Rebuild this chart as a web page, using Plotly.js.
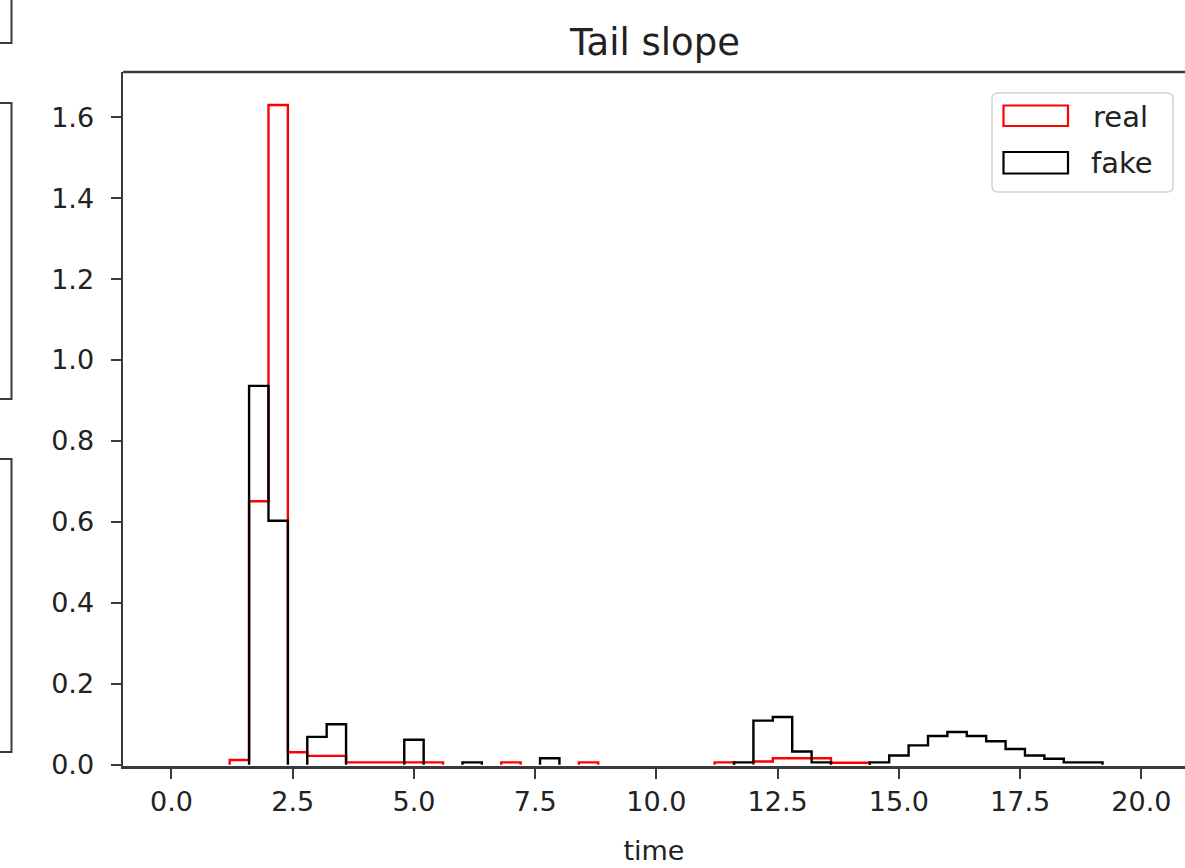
<!DOCTYPE html>
<html>
<head>
<meta charset="utf-8">
<script src="https://cdn.plot.ly/plotly-3.0.1.min.js"></script>
<style>
  html, body { margin: 0; padding: 0; background: #fff; }
  #chart { width: 1185px; height: 868px; }
</style>
</head>
<body>
<div id="chart"></div>
<script>
// Histogram bin edges (50 bins of width 0.4 on [0, 20])
const binEdges = [
  0.0, 0.4, 0.8, 1.2, 1.6, 2.0, 2.4, 2.8, 3.2, 3.6,
  4.0, 4.4, 4.8, 5.2, 5.6, 6.0, 6.4, 6.8, 7.2, 7.6,
  8.0, 8.4, 8.8, 9.2, 9.6, 10.0, 10.4, 10.8, 11.2, 11.6,
  12.0, 12.4, 12.8, 13.2, 13.6, 14.0, 14.4, 14.8, 15.2, 15.6,
  16.0, 16.4, 16.8, 17.2, 17.6, 18.0, 18.4, 18.8, 19.2, 19.6,
  20.0
];

// Normalised density per bin
const realDensity = [
  0, 0, 0, 0.012, 0.651, 1.63, 0.031, 0.022, 0.022, 0.006,
  0.006, 0.006, 0.006, 0.006, 0, 0, 0, 0.006, 0, 0,
  0, 0.006, 0, 0, 0, 0, 0, 0, 0.006, 0,
  0.008, 0.016, 0.016, 0.016, 0.005, 0.005, 0, 0, 0, 0,
  0, 0, 0, 0, 0, 0, 0, 0, 0, 0
];
const fakeDensity = [
  0, 0, 0, 0, 0.936, 0.603, 0, 0.069, 0.1, 0,
  0, 0, 0.062, 0, 0, 0.006, 0, 0, 0, 0.016,
  0, 0, 0, 0, 0, 0, 0, 0, 0, 0.006,
  0.109, 0.118, 0.033, 0.006, 0, 0, 0.006, 0.023, 0.048, 0.071,
  0.081, 0.071, 0.058, 0.039, 0.023, 0.015, 0.006, 0.006, 0, 0
];

const seriesNames = ['real', 'fake'];
const seriesColors = ['red', 'black'];

const titleText = 'Tail slope';
const xLabel = 'time';
const xTickVals = [0, 2.5, 5, 7.5, 10, 12.5, 15, 17.5, 20];
const yTickVals = [0, 0.2, 0.4, 0.6, 0.8, 1.0, 1.2, 1.4, 1.6];

// Step outline of a histogram; empty bins leave the baseline undrawn
// (it lies under the bottom spine anyway).
function stepOutline(edges, vals) {
  const xs = [edges[0]], ys = [0];
  for (let i = 0; i < vals.length; i++) {
    if (vals[i] === 0) {
      xs.push(edges[i], null, edges[i + 1]);
      ys.push(0, null, 0);
    } else {
      xs.push(edges[i], edges[i + 1]);
      ys.push(vals[i], vals[i]);
    }
  }
  xs.push(edges[edges.length - 1]);
  ys.push(0);
  return { xs, ys };
}

const traces = [realDensity, fakeDensity].map((vals, k) => {
  const s = stepOutline(binEdges, vals);
  return {
    type: 'scatter', mode: 'lines',
    x: s.xs, y: s.ys,
    name: seriesNames[k],
    connectgaps: false,
    line: { color: seriesColors[k], width: 2.4 },
    showlegend: false,
    hoverinfo: 'skip'
  };
});

// Plot-area pixel frame, used to place the legend and neighbouring frames
const PL = 123, PR = 1185, PT = 72, PB = 766;
const px = v => (v - PL) / (PR - PL);
const py = v => (PB - v) / (PB - PT);

const axisColor = '#3a3a3a';
const textColor = '#222';
const font = 'DejaVu Sans, Verdana, sans-serif';

function rectPath(x0, y0, x1, y1) {
  return `M${px(x0)},${py(y0)} L${px(x1)},${py(y0)} L${px(x1)},${py(y1)} L${px(x0)},${py(y1)} Z`;
}
function roundRectPath(x0, y0, x1, y1, r) {
  return `M${px(x0 + r)},${py(y0)} L${px(x1 - r)},${py(y0)} Q${px(x1)},${py(y0)} ${px(x1)},${py(y0 + r)}` +
    ` L${px(x1)},${py(y1 - r)} Q${px(x1)},${py(y1)} ${px(x1 - r)},${py(y1)}` +
    ` L${px(x0 + r)},${py(y1)} Q${px(x0)},${py(y1)} ${px(x0)},${py(y1 - r)}` +
    ` L${px(x0)},${py(y0 + r)} Q${px(x0)},${py(y0)} ${px(x0 + r)},${py(y0)} Z`;
}
function openBoxPath(xr, y0, y1) {
  return `M${px(-6)},${py(y0)} L${px(xr)},${py(y0)} L${px(xr)},${py(y1)} L${px(-6)},${py(y1)}`;
}

const shapes = [
  // top spine
  { type: 'line', xref: 'paper', yref: 'paper', x0: 0, x1: 1.01, y0: 1, y1: 1,
    line: { color: axisColor, width: 2.5 } },
  // edges of the neighbouring panels on the left
  { type: 'path', xref: 'paper', yref: 'paper',
    path: `M${px(11.5)},${py(-6)} L${px(11.5)},${py(43)} L${px(-6)},${py(43)}`,
    line: { color: axisColor, width: 2 } },
  { type: 'path', xref: 'paper', yref: 'paper', path: openBoxPath(11.5, 103, 399),
    line: { color: axisColor, width: 2 } },
  { type: 'path', xref: 'paper', yref: 'paper', path: openBoxPath(11.5, 459, 752),
    line: { color: axisColor, width: 2 } },
  // legend frame
  { type: 'path', xref: 'paper', yref: 'paper', path: roundRectPath(992, 93, 1173, 192, 6),
    line: { color: '#d2d2d2', width: 1.5 }, fillcolor: 'rgba(255,255,255,0.85)' },
  // legend patches
  { type: 'path', xref: 'paper', yref: 'paper', path: rectPath(1003.5, 105.5, 1068, 126),
    line: { color: seriesColors[0], width: 2.2 } },
  { type: 'path', xref: 'paper', yref: 'paper', path: rectPath(1003.5, 152, 1068, 173.5),
    line: { color: seriesColors[1], width: 2.2 } }
];

const annotations = [
  { xref: 'paper', yref: 'paper', x: px(1091), y: py(117), xanchor: 'left', yanchor: 'middle',
    text: seriesNames[0], showarrow: false, font: { family: font, size: 29, color: textColor } },
  { xref: 'paper', yref: 'paper', x: px(1089), y: py(163), xanchor: 'left', yanchor: 'middle',
    text: seriesNames[1], showarrow: false, font: { family: font, size: 29, color: textColor } }
];

const layout = {
  width: 1185, height: 868,
  margin: { l: PL, r: 1185 - PR, t: PT, b: 868 - PB, pad: 0 },
  paper_bgcolor: '#fff', plot_bgcolor: '#fff',
  font: { family: font, size: 27, color: textColor },
  title: {
    text: titleText, font: { family: font, size: 37, color: textColor },
    xref: 'paper', x: px(655), xanchor: 'center',
    yref: 'container', y: 1 - 42 / 868, yanchor: 'middle'
  },
  xaxis: {
    range: [-1.0, 20.9], showgrid: false, zeroline: false,
    showline: true, linecolor: axisColor, linewidth: 2.5,
    ticks: 'outside', ticklen: 10, tickwidth: 2, tickcolor: axisColor,
    tickvals: xTickVals, tickformat: '.1f',
    tickfont: { family: font, size: 27, color: textColor },
    title: { text: xLabel, font: { family: font, size: 27, color: textColor }, standoff: 25 },
    automargin: false, layer: 'above traces'
  },
  yaxis: {
    range: [-0.003, 1.7115], showgrid: false, zeroline: false,
    showline: true, linecolor: axisColor, linewidth: 2.5,
    ticks: 'outside', ticklen: 10, tickwidth: 2, tickcolor: axisColor,
    tickvals: yTickVals, tickformat: '.1f',
    tickfont: { family: font, size: 27, color: textColor },
    ticklabelstandoff: 11,
    automargin: false, layer: 'above traces'
  },
  shapes, annotations, showlegend: false
};

Plotly.newPlot('chart', traces, layout, { displayModeBar: false, staticPlot: true });
</script>
</body>
</html>
